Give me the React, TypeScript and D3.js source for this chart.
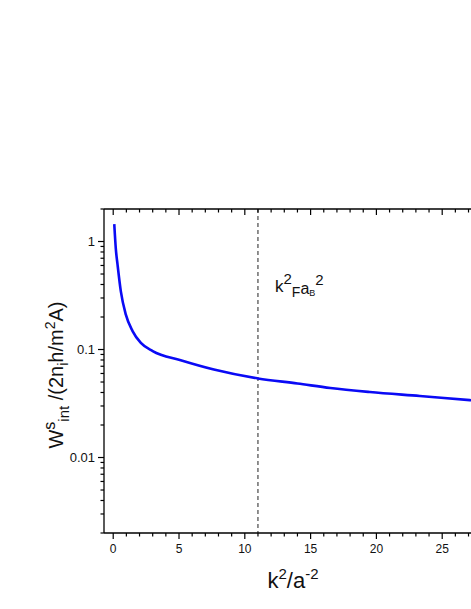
import React from "react";
import * as d3 from "d3";

const kValues = [0.08, 0.2, 0.33, 0.58, 0.96, 1.47, 2.1, 3.0, 5.13, 7.65, 11, 14, 16.5, 19.5, 23.3, 27.1, 30];
const wValues = [1.45, 0.85, 0.61, 0.345, 0.21, 0.148, 0.115, 0.0966, 0.0796, 0.0653, 0.054, 0.0485, 0.044, 0.0404, 0.0371, 0.034, 0.032];
const xTickValues = [0, 5, 10, 15, 20, 25];
const yTickValues = [1, 0.1, 0.01];
const yTickLabels = ["1", "0.1", "0.01"];
const markerK = 11;

const W = 471;
const H = 609;
const left = 104;
const top = 209;
const bottom = 533;
const xRight = 508;

export default function App() {
  const x = d3.scaleLinear().domain([-0.7, 30]).range([left, xRight]);
  const y = d3.scaleLog().domain([0.002, 2]).range([bottom, top]);

  const pts = kValues.map((k, i) => [x(k), y(wValues[i])] as [number, number]);
  const line = d3.line().curve(d3.curveMonotoneX)(pts) || "";

  const xMinor = d3.range(0, 31, 1);
  const yMinor: number[] = [];
  for (const dec of [0.001, 0.01, 0.1, 1]) {
    for (let m = 2; m <= 9; m++) {
      const v = dec * m;
      if (v >= 0.002 && v <= 2) yMinor.push(v);
    }
  }
  const font = "'Liberation Sans', Arial, sans-serif";

  return (
    <svg width={W} height={H} style={{ position: "absolute", left: 0, top: 0 }} fontFamily={font}>
      <rect x={0} y={0} width={W} height={H} fill="white" />
      <defs>
        <clipPath id="plot">
          <rect x={left} y={top} width={xRight - left} height={bottom - top} />
        </clipPath>
      </defs>
      <line x1={x(markerK)} x2={x(markerK)} y1={top} y2={bottom} stroke="#222" strokeWidth={1} strokeDasharray="4,3" />
      <path d={line} fill="none" stroke="#0a0af5" strokeWidth={2.6} clipPath="url(#plot)" />
      <line x1={left} x2={xRight} y1={bottom} y2={bottom} stroke="black" strokeWidth={1.3} />
      <line x1={left} x2={xRight} y1={top} y2={top} stroke="black" strokeWidth={1.3} />
      <line x1={left} x2={left} y1={top} y2={bottom} stroke="black" strokeWidth={1.3} />
      {xMinor.map((k) => {
        const major = k % 5 === 0;
        const len = major ? 6 : 3.5;
        return (
          <g key={"xt" + k}>
            <line x1={x(k)} x2={x(k)} y1={bottom} y2={bottom + len} stroke="black" strokeWidth={1.2} />
            <line x1={x(k)} x2={x(k)} y1={top} y2={top + len} stroke="black" strokeWidth={1.2} />
          </g>
        );
      })}
      {xTickValues.map((k) => (
        <text key={"xl" + k} x={x(k)} y={553} fontSize={12} textAnchor="middle" fill="#111">
          {k}
        </text>
      ))}
      {yTickValues.map((v, i) => (
        <g key={"yt" + v}>
          <line x1={left - 6} x2={left} y1={y(v)} y2={y(v)} stroke="black" strokeWidth={1.2} />
          <text x={95} y={y(v) + 4.5} fontSize={13} textAnchor="end" fill="#111">
            {yTickLabels[i]}
          </text>
        </g>
      ))}
      {yMinor.map((v) => (
        <line key={"ym" + v} x1={left - 3.5} x2={left} y1={y(v)} y2={y(v)} stroke="black" strokeWidth={1.2} />
      ))}
      <text x={275} y={292} fontSize={17} fill="#111">
        k<tspan dy={-8} fontSize={15}>2</tspan>
        <tspan dy={13} fontSize={14}>F</tspan>
        <tspan dy={-3} fontSize={16}>a</tspan>
        <tspan dy={2} fontSize={9}>B</tspan>
        <tspan dy={-11} fontSize={15}>2</tspan>
      </text>
      <text x={293} y={588} fontSize={22} textAnchor="middle" fill="#111">
        k<tspan dy={-9} fontSize={15}>2</tspan>
        <tspan dy={9}>/a</tspan>
        <tspan dy={-9} fontSize={15}>-2</tspan>
      </text>
      <text transform="translate(63,375) rotate(-90)" fontSize={20} textAnchor="middle" fill="#111">
        W<tspan dy={-8} fontSize={16}>s</tspan>
        <tspan dy={14} fontSize={15}>int</tspan>
        <tspan dy={-6}> /(2n</tspan>
        <tspan dy={5} fontSize={14}>i</tspan>
        <tspan dy={-5}>h/m</tspan>
        <tspan dy={-8} fontSize={14}>2</tspan>
        <tspan dy={8}>A)</tspan>
      </text>
    </svg>
  );
}
